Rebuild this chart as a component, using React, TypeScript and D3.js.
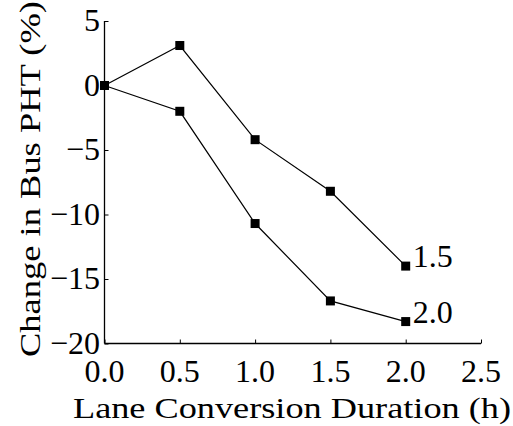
import React, { useEffect, useRef } from 'react';
import * as d3 from 'd3';

const durations = [0.0, 0.5, 1.0, 1.5, 2.0];
const seriesNames = ['1.5', '2.0'];
const series15 = [0, 3.1, -4.2, -8.2, -14.0];
const series20 = [0, -2.0, -10.7, -16.7, -18.3];
const xTicks = [0.0, 0.5, 1.0, 1.5, 2.0, 2.5];
const yTicks = [5, 0, -5, -10, -15, -20];

const App: React.FC = () => {
    const ref = useRef<SVGSVGElement>(null);

    useEffect(() => {
        if (!ref.current) return;
        const svg = d3.select(ref.current);
        svg.selectAll('*').remove();

        const font = '"Liberation Serif", "Times New Roman", serif';
        const fs = 32;
        const x = d3.scaleLinear().domain([0, 2.5]).range([104.5, 481]);
        const y = d3.scaleLinear().domain([-20, 5]).range([343.5, 21]);

        // y axis (ticks point inward)
        const yAxis = svg.append('g')
            .attr('transform', `translate(${x(0)},0)`)
            .call(d3.axisRight(y).tickValues(yTicks).tickSize(4).tickFormat(() => ''));
        yAxis.select('.domain').attr('d', `M0,${y(-20)}V${y(5)}`).attr('stroke', '#000').attr('stroke-width', 1.3);
        yAxis.selectAll('line').attr('stroke', '#000');

        svg.append('g').selectAll('text')
            .data(yTicks)
            .enter()
            .append('text')
            .attr('x', 100)
            .attr('y', d => y(d) + 10)
            .attr('text-anchor', 'end')
            .attr('font-family', font)
            .attr('font-size', fs)
            .text(d => (d < 0 ? '\u2212' + Math.abs(d) : String(d)));

        // x axis
        const xAxis = svg.append('g')
            .attr('transform', `translate(0,${y(-20)})`)
            .call(d3.axisTop(x).tickValues(xTicks).tickSize(4).tickFormat(() => ''));
        xAxis.select('.domain').attr('d', `M${x(0)},0H${x(2.5)}`).attr('stroke', '#000').attr('stroke-width', 1.3);
        xAxis.selectAll('line').attr('stroke', '#000');

        svg.append('g').selectAll('text')
            .data(xTicks)
            .enter()
            .append('text')
            .attr('x', d => x(d))
            .attr('y', 382)
            .attr('text-anchor', 'middle')
            .attr('font-family', font)
            .attr('font-size', fs)
            .text(d => d.toFixed(1));

        // axis titles
        svg.append('text')
            .attr('x', 292)
            .attr('y', 418)
            .attr('text-anchor', 'middle')
            .attr('font-family', font)
            .attr('font-size', 30)
            .attr('textLength', 438)
            .attr('lengthAdjust', 'spacingAndGlyphs')
            .text('Lane Conversion Duration (h)');

        svg.append('text')
            .attr('transform', 'translate(40,179) rotate(-90)')
            .attr('text-anchor', 'middle')
            .attr('font-family', font)
            .attr('font-size', 30)
            .attr('textLength', 356)
            .attr('lengthAdjust', 'spacingAndGlyphs')
            .text('Change in Bus PHT (%)');

        // lines and markers
        const data = [series15, series20];
        const line = d3.line<number>()
            .x((_, i) => x(durations[i]))
            .y(d => y(d));

        data.forEach((vals, si) => {
            svg.append('path')
                .attr('d', line(vals) as string)
                .attr('fill', 'none')
                .attr('stroke', '#000')
                .attr('stroke-width', 1.2);
            svg.append('g').selectAll('rect')
                .data(vals)
                .enter()
                .append('rect')
                .attr('x', (_, i) => x(durations[i]) - 4.5)
                .attr('y', d => y(d) - 4.5)
                .attr('width', 9)
                .attr('height', 9)
                .attr('fill', '#000');
            const last = vals[vals.length - 1];
            svg.append('text')
                .attr('x', x(durations[durations.length - 1]) + 7)
                .attr('y', y(last) + 1)
                .attr('font-family', font)
                .attr('font-size', fs)
                .text(seriesNames[si]);
        });
    }, []);

    return (
        <svg
            ref={ref}
            width={513}
            height={426}
            style={{ position: 'absolute', left: 0, top: 0, background: '#fff' }}
        />
    );
};

export default App;
